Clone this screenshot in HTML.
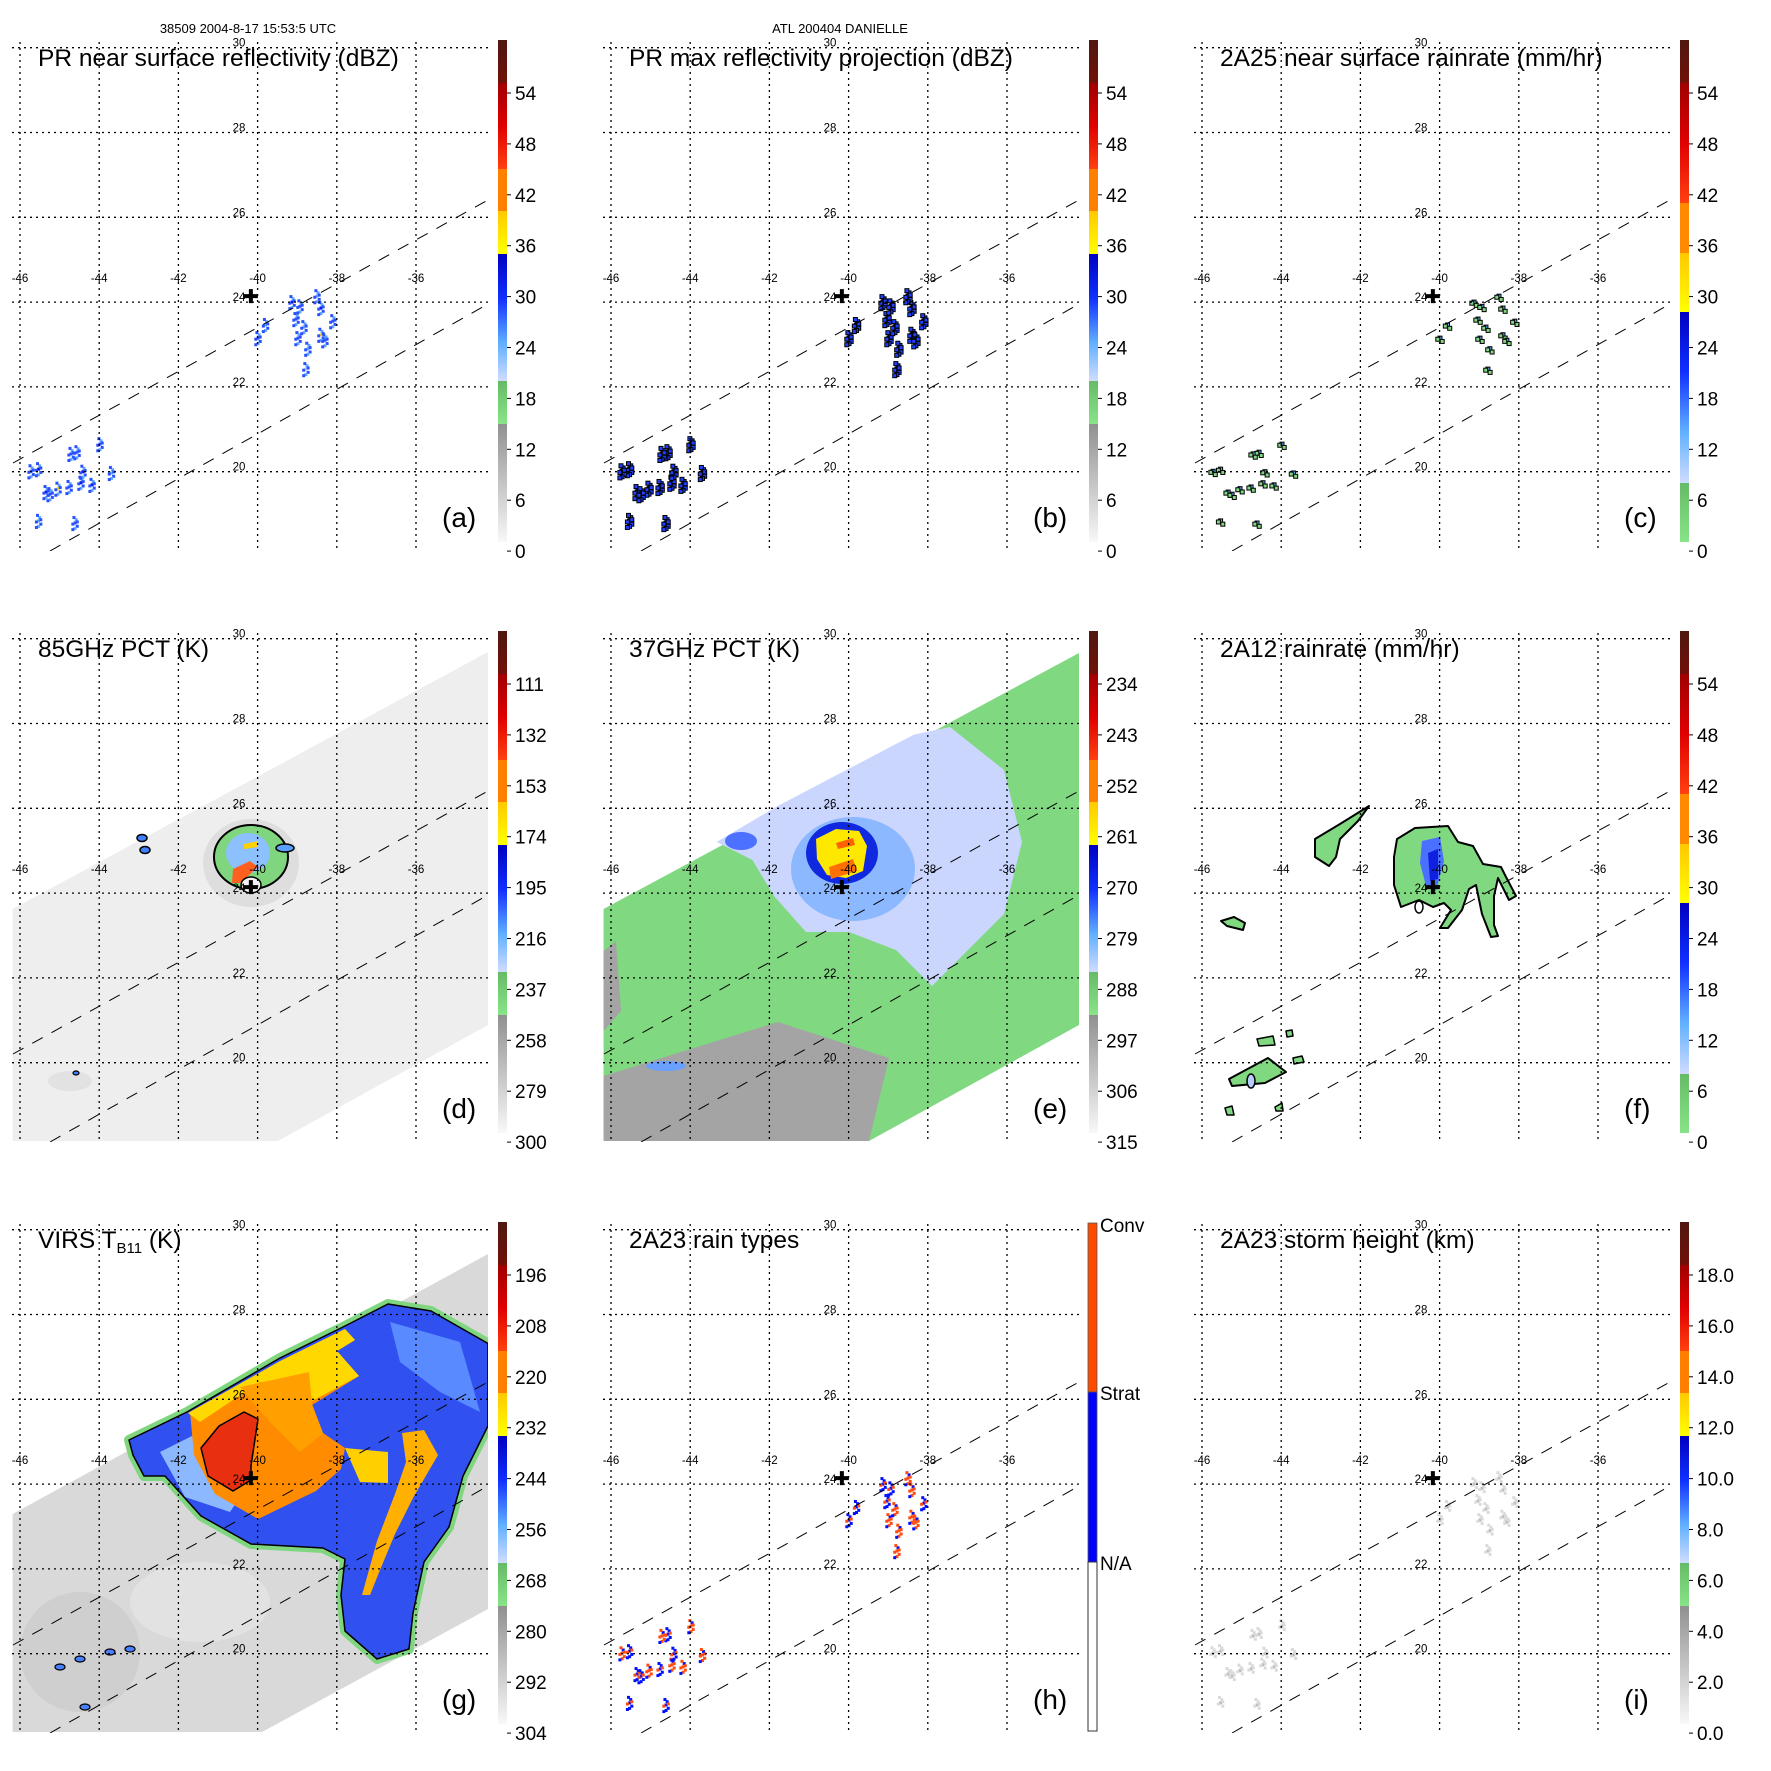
<!DOCTYPE html>
<html><head><meta charset="utf-8"><style>
html,body{margin:0;padding:0;background:#fff;}
svg{display:block;font-family:"Liberation Sans",sans-serif;}
</style></head><body>
<svg id="fig" width="1771" height="1771" viewBox="0 0 1771 1771" xmlns="http://www.w3.org/2000/svg">
<defs>
<linearGradient id="gBlueA" x1="0" y1="0" x2="0" y2="1"><stop offset="0" stop-color="#0000c0"/><stop offset="0.35" stop-color="#1030ff"/><stop offset="0.7" stop-color="#60b0ff"/><stop offset="1" stop-color="#d0dcff"/></linearGradient>
<linearGradient id="gRed" x1="0" y1="0" x2="0" y2="1"><stop offset="0" stop-color="#a00000"/><stop offset="0.5" stop-color="#e00000"/><stop offset="1" stop-color="#ff4010"/></linearGradient>
<linearGradient id="gBrown" x1="0" y1="0" x2="0" y2="1"><stop offset="0" stop-color="#501810"/><stop offset="1" stop-color="#701008"/></linearGradient>
<linearGradient id="gYellow" x1="0" y1="0" x2="0" y2="1"><stop offset="0" stop-color="#ffc800"/><stop offset="1" stop-color="#ffff00"/></linearGradient>
<linearGradient id="gGreen" x1="0" y1="0" x2="0" y2="1"><stop offset="0" stop-color="#66bb66"/><stop offset="1" stop-color="#88e488"/></linearGradient>
<linearGradient id="gGray" x1="0" y1="0" x2="0" y2="1"><stop offset="0" stop-color="#909090"/><stop offset="1" stop-color="#f8f8f8"/></linearGradient>
<clipPath id="plotClip"><rect x="12" y="40" width="476" height="511"/></clipPath>
</defs>
<text x="248" y="33" font-size="13" text-anchor="middle">38509 2004-8-17 15:53:5 UTC</text>
<text x="840" y="33" font-size="13" text-anchor="middle">ATL 200404 DANIELLE</text>
</svg>
<script>
// ---- data arrays ----
const lonTicks = [-46,-44,-42,-40,-38,-36];
const latTicks = [30,28,26,24,22,20];
const panelTitles = ["PR near surface reflectivity (dBZ)","PR max reflectivity projection (dBZ)","2A25 near surface rainrate (mm/hr)","85GHz PCT (K)","37GHz PCT (K)","2A12 rainrate (mm/hr)","VIRS T","2A23 rain types","2A23 storm height (km)"];
const panelLetters = ["(a)","(b)","(c)","(d)","(e)","(f)","(g)","(h)","(i)"];
const cbLabelsA = ["54","48","42","36","30","24","18","12","6","0"];
const cbLabelsD = ["111","132","153","174","195","216","237","258","279","300"];
const cbLabelsE = ["234","243","252","261","270","279","288","297","306","315"];
const cbLabelsG = ["196","208","220","232","244","256","268","280","292","304"];
const cbLabelsI = ["18.0","16.0","14.0","12.0","10.0","8.0","6.0","4.0","2.0","0.0"];
const centerLon = -40.17, centerLat = 24.14;
// PR echo cells: lon, lat, value(dBZ-like)
const echoLon = [-39.13,-39.03,-38.98,-38.73,-38.78,-38.4,-38.1,-38.4,-38.3,-39.99,-39.8,-38.5,-38.93,-38.83,-45.53,-45.34,-45.04,-44.76,-44.46,-44.41,-44.56,-44.71,-43.98,-45.53,-44.61,-43.69,-45.72,-45.24,-44.18];
const echoLat = [24.0,23.6,23.15,22.9,22.42,23.86,23.55,23.23,23.1,23.15,23.46,24.14,23.9,23.41,20.06,19.52,19.6,19.64,19.74,20.0,20.46,20.42,20.65,18.84,18.79,19.97,20.01,19.47,19.69];
const echoVal = [34,28,30,26,22,32,28,36,30,30,26,24,30,26,32,34,36,30,34,34,30,28,28,26,30,24,28,30,32];
const echoType = [1,1,2,2,2,2,1,2,2,1,1,2,1,2,1,1,2,1,2,1,1,2,2,1,1,2,2,1,2];

const fig = document.getElementById('fig');
const NS = 'http://www.w3.org/2000/svg';
function mk(parent, tag, attrs){const e=document.createElementNS(NS,tag);for(const k in attrs)e.setAttribute(k,attrs[k]);parent.appendChild(e);return e;}
// axis functions (panel-local pixels)
function xs(lon){return 20+(lon+46)*39.6;}
function ys(lat){return 47.7+(30-lat)*42.4;}
const OFFS=[[0,0],[2,3],[-2,1],[1,-3],[-1,-5],[2,-1],[0,5],[-2,6],[1,8]];

function colorA(v){ if(v>=36)return '#ffe000'; if(v>=32)return '#0010e0'; if(v>=28)return '#2850ff'; if(v>=24)return '#60a8ff'; if(v>=20)return '#b8ccff'; return '#80d880'; }

function colorbar(g, scheme, labels){
  const cb = mk(g,'g',{});
  
  
  let segs;
  if(scheme==='A') segs=[[40,83,'url(#gBrown)'],[83,169,'url(#gRed)'],[169,211,'#ff8000'],[211,254,'url(#gYellow)'],[254,381,'url(#gBlueA)'],[381,424,'url(#gGreen)'],[424,542,'url(#gGray)']];
  else segs=[[40,83,'url(#gBrown)'],[83,203,'url(#gRed)'],[203,253,'#ff8a00'],[253,312,'url(#gYellow)'],[312,483,'url(#gBlueA)'],[483,542,'url(#gGreen)']];
  segs.forEach(s=>{const r=mk(cb,'rect',{x:498,y:s[0],width:9,height:s[1]-s[0],fill:s[2]});
    
    });
  labels.forEach((t,i)=>{const y=100+i*50.9;
    mk(cb,'line',{x1:507,x2:511,y1:y-7,y2:y-7,stroke:'#000','stroke-width':1});
    const tx=mk(cb,'text',{x:515,y:y,'font-size':19});tx.textContent=t;
    
    });
}

function poly(g, pts, fill, stroke, sw, name){
  const p=mk(g,'polygon',{points:pts.map(q=>q.join(',')).join(' '),fill:fill,stroke:stroke||'none','stroke-width':sw||0,'stroke-linejoin':'round'});
  
  
  return p;
}
function ell(g,cx,cy,rx,ry,fill,stroke,sw,name){
  const e=mk(g,'ellipse',{cx:cx,cy:cy,rx:rx,ry:ry,fill:fill,stroke:stroke||'none','stroke-width':sw||0});
  
  
  return e;
}

function echoes(g, mode){
  for(let i=0;i<echoLon.length;i++){
    const cx=xs(echoLon[i]), cy=ys(echoLat[i]);
    const v=echoVal[i];
    const n = mode==='c'?3:(mode==='i'?6:8);
    for(let k=0;k<n;k++){
      const px=cx+OFFS[k][0]*1.1, py=cy+OFFS[k][1]*1.1;
      let fill;
      if(mode==='a') fill = k===0?colorA(v):(k%3===0?'#60a8ff':'#2850ff');
      else if(mode==='b') fill = k===0?colorA(v):'#2040ff';
      else if(mode==='c') fill = k===0?'#5aa8ff':'#80d880';
      else if(mode==='h') fill = echoType[i]===2?(k%4===3?'#0010ff':'#ff4a10'):(k%3===2?'#ff4a10':'#0010ff');
      else fill = k===0?'#b8b8b8':'#dadada';
      if(mode==='b'||mode==='c'){
        const o=mk(g,'rect',{x:px-2.5,y:py-2.5,width:5,height:5,fill:'#000'});
        
        
      }
      const r=mk(g,'rect',{x:px-1.5,y:py-1.5,width:3,height:3,fill:fill});
      
      
    }
  }
}

function panel(idx){
  const c=idx%3, r=Math.floor(idx/3);
  const g=mk(fig,'g',{transform:`translate(${591*c},${591*r})`});
  
  
  const img=mk(g,'g',{'clip-path':'url(#plotClip)'});
  
  

  if(idx===3){ // 85GHz
    poly(img,[[12.6,318],[488,61],[488,434],[278,550],[12.6,550]],'#eeeeee','none',0,'swath-85ghz');
    ell(img,251,272,48,44,'#dedede','none',0,'cold-halo');
    ell(img,70,490,22,10,'#e2e2e2','none',0,'cold-patch');
    ell(img,251,266,37,32,'#7fd67f','#000',2,'storm-core-85');
    ell(img,248,262,22,20,'#8cc0ff','none',0,'storm-ice-85');
    poly(img,[[233,278],[250,270],[258,276],[240,292],[232,292]],'#ff6020','none',0,'storm-deep-convection');
    poly(img,[[244,253],[258,250],[258,256],[244,258]],'#ffd000','none',0,'storm-yellow');
    ell(img,251,294,10,8,'#f2f2f2','#000',1.5,'storm-eye');
    ell(img,285,257,9,4,'#5aa0ff','#000',1.5,'band-cell');
    ell(img,142,247,5,3.5,'#4080ff','#000',1.5,'small-cell');
    ell(img,145,259,5,3.5,'#4080ff','#000',1.5,'small-cell');
    ell(img,76,482,3,2,'#4080ff','#000',1.2,'small-cell');
  } else if(idx===4){ // 37GHz
    poly(img,[[12.6,318],[488,62],[488,434],[278,550],[12.6,550]],'#80d880','none',0,'swath-37ghz');
    poly(img,[[12.6,485],[187,431],[298,467],[278,550],[12.6,550]],'#a4a4a4','none',0,'warm-ocean');
    poly(img,[[12.6,360],[25,350],[30,420],[12.6,440]],'#a4a4a4','none',0,'warm-ocean-strip');
    poly(img,[[125.6,251],[186.6,215],[323,143.6],[359,136],[413,179],[431,251],[413,323],[377,359],[341,395],[305,359],[258,341],[215,341],[183,305],[161.5,269]],'#cbd6ff','none',0,'light-rain-region');
    ell(img,262,278,62,52,'#8cb8ff','none',0,'moderate-rain-region');
    ell(img,150,250,16,9,'#4c70ff','none',0,'outer-band');
    ell(img,251,262,36,31,'#1028e0','none',0,'convective-core');
    poly(img,[[225,248],[245,238],[268,240],[276,255],[272,280],[255,287],[236,284],[226,268]],'#ffe800','none',0,'scattering-core');
    poly(img,[[238,276],[262,268],[266,280],[240,288]],'#ff7000','none',0,'strong-scattering');
    poly(img,[[245,252],[262,247],[264,254],[247,258]],'#ff6000','none',0,'strong-scattering');
    ell(img,75,475,20,5,'#6aa0ff','none',0,'sw-rain');
  } else if(idx===5){ // 2A12
    poly(img,[[215,248],[233,237],[266,235],[276,251],[291,255],[301,273],[319,276],[323,284],[334,305],[327,309],[316,287],[312,305],[312,334],[316,345],[309,346],[300,323],[294,294],[287,298],[280,319],[266,337],[258,337],[269,319],[262,312],[251,316],[237,309],[219,316],[212,294],[212,266]],'#80d880','#000',2,'rain-area-main');
    poly(img,[[240,250],[258,246],[262,270],[254,300],[244,295],[238,272]],'#4a70ff','none',0,'rain-core');
    poly(img,[[246,262],[256,258],[256,288],[248,290]],'#1020e0','none',0,'rain-core-heavy');
    poly(img,[[133,248],[158,233],[187,215],[176,230],[158,248],[154,266],[147,275],[133,266]],'#80d880','#000',2,'rain-area-nw');
    poly(img,[[39,330],[52,326],[63,332],[61,339],[45,335]],'#80d880','#000',2,'rain-area-small');
    poly(img,[[47,488],[86,467],[104,481],[83,492],[50,495]],'#80d880','#000',2,'rain-area-sw');
    ell(img,69,490,4,7,'#b8ccff','#000',1.5,'rain-hole');
    poly(img,[[75,448],[91,445],[93,454],[77,455]],'#80d880','#000',1.5,'rain-area-small');
    poly(img,[[104,440],[110,439],[111,445],[105,446]],'#80d880','#000',1.5,'rain-area-small');
    poly(img,[[111,467],[120,465],[122,471],[112,473]],'#80d880','#000',1.5,'rain-area-small');
    poly(img,[[43,517],[50,515],[52,524],[45,524]],'#80d880','#000',1.5,'rain-area-small');
    poly(img,[[93,516],[100,512],[101,520],[94,520]],'#80d880','#000',1.5,'rain-area-small');
    ell(img,237,316,4,6,'#fff','#000',1.5,'rain-hole');
  } else if(idx===6){ // VIRS
    poly(img,[[12.6,332],[488,72],[488,427],[262,550],[12.6,550]],'#d9d9d9','none',0,'swath-virs');
    ell(img,80,470,60,60,'#cfcfcf','none',0,'gray-cloud');
    ell(img,200,420,70,40,'#e2e2e2','none',0,'clear-area');
    const blue=[[129,258],[187,230],[280,176],[345,144],[388,122],[431,129],[488,161.5],[488,244],[463,294],[449,345],[424,380],[413,431],[409,467],[377,477],[345,449],[341,413],[345,377],[323,366],[251,362],[201,334],[165,294],[144,294],[133,273]];
    poly(img,blue,'#7fd67f','#7fd67f',10,'cloud-shield-edge');
    poly(img,blue,'#3050f0','#000',1.5,'cloud-shield');
    poly(img,[[160,270],[200,250],[250,300],[230,330],[185,315]],'#8cb8ff','none',0,'cloud-shield-thin');
    poly(img,[[390,140],[460,160],[480,230],[440,210],[400,180]],'#5a8aff','none',0,'cloud-shield-thin');
    poly(img,[[190,230],[345,147],[355,158],[337,169],[359,194],[312,223],[323,251],[345,266],[341,287],[316,309],[287,323],[258,337],[215,312],[194,273]],'#ff8c00','none',0,'cold-cloud-top');
    poly(img,[[188,231],[280,179],[345,147],[355,158],[337,169],[359,194],[312,219],[309,201],[260,200],[200,240]],'#ffd800','none',0,'anvil-edge');
    poly(img,[[240,205],[309,190],[312,222],[323,251],[300,270],[270,240]],'#ffa000','none',0,'cloud-top-orange');
    poly(img,[[345,266],[388,270],[388,301],[360,300]],'#ffd000','none',0,'spiral-band-top');
    poly(img,[[402,251],[424,248],[438,273],[413,316],[395,352],[380,388],[370,413],[362,413],[377,359],[395,312],[406,280]],'#ffb000','none',0,'spiral-band-tail');
    poly(img,[[201,266],[219,244],[244,230],[258,237],[251,284],[251,298],[233,309],[208,294]],'#e83010','#000',1.5,'coldest-core');
    [[60,485],[80,477],[110,470],[130,467],[85,525]].forEach(p=>ell(img,p[0],p[1],5,3,'#4a80ff','#000',1.2,'small-cloud'));
  } else if(idx<3){
    echoes(img, ['a','b','c'][idx]);
  } else if(idx===7){
    echoes(img,'h');
  } else if(idx===8){
    echoes(img,'i');
  }

  // grid
  const grid=mk(g,'g',{stroke:'#000','stroke-width':1.3,'stroke-dasharray':'2,4'});
  
  
  lonTicks.forEach(l=>{const ln=mk(grid,'line',{x1:xs(l),x2:xs(l),y1:42,y2:551});
    
    });
  latTicks.forEach(l=>{const ln=mk(grid,'line',{x1:12,x2:488,y1:ys(l),y2:ys(l)});
    
    });
  // swath edges
  const sw=mk(g,'g',{stroke:'#000','stroke-width':1,'stroke-dasharray':'12,10',fill:'none','clip-path':'url(#plotClip)'});
  
  
  mk(sw,'line',{x1:13,y1:463,x2:488,y2:200});
  mk(sw,'line',{x1:50,y1:551,x2:488,y2:304});
  // tick labels
  lonTicks.forEach(l=>{const t=mk(g,'text',{x:xs(l),y:282,'font-size':11.5,'text-anchor':'middle'});t.textContent=String(l);
    
    });
  latTicks.forEach(l=>{const t=mk(g,'text',{x:239,y:ys(l)-1,'font-size':11.5,'text-anchor':'middle'});t.textContent=String(l);
    
    });
  // storm center cross
  const cx=xs(centerLon), cy=ys(centerLat);
  const cr=mk(g,'path',{d:`M${cx-7},${cy}H${cx+7}M${cx},${cy-7}V${cy+7}`,stroke:'#000','stroke-width':4});
  
  
  // title
  const tt=mk(g,'text',{x:38,y:66,'font-size':24.5});
  tt.textContent=panelTitles[idx];
  
  
  if(idx===6){
    const sub=mk(tt,'tspan',{'font-size':15,dy:5});sub.textContent='B11';
    const rest=mk(tt,'tspan',{dy:-5});rest.textContent=' (K)';
  }
  const lt=mk(g,'text',{x:442,y:527,'font-size':28});
  lt.textContent=panelLetters[idx];
  
  
  // colorbar
  if(idx===7){
    const cb=mk(g,'g',{});
    
    
    mk(cb,'rect',{x:497,y:41,width:9,height:169,fill:'#ff4a00',stroke:'#555','stroke-width':0.8});
    mk(cb,'rect',{x:497,y:210,width:9,height:170,fill:'#0000ff',stroke:'#555','stroke-width':0.8});
    mk(cb,'rect',{x:497,y:380,width:9,height:169,fill:'#fff',stroke:'#333','stroke-width':1});
    [['Conv',50],['Strat',218],['N/A',388]].forEach(p=>{const t=mk(cb,'text',{x:509,y:p[1],'font-size':19});t.textContent=p[0];
      
      });
  } else {
    const labs=[cbLabelsA,cbLabelsA,cbLabelsA,cbLabelsD,cbLabelsE,cbLabelsA,cbLabelsG,null,cbLabelsI][idx];
    colorbar(g,(idx===2||idx===5)?'C':'A',labs);
  }
}
for(let i=0;i<9;i++) panel(i);
</script>
</body></html>
